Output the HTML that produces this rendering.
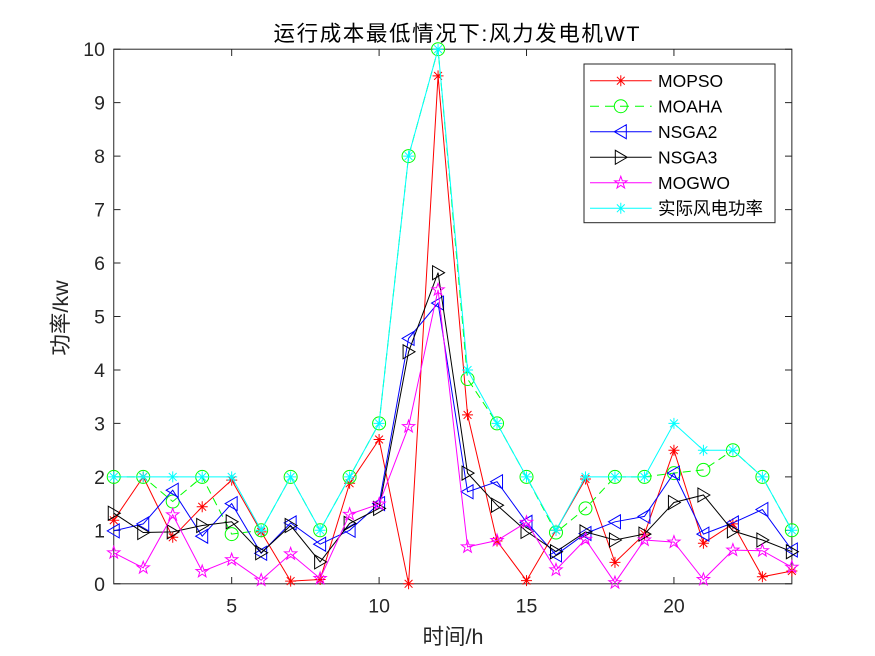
<!DOCTYPE html>
<html>
<head>
<meta charset="utf-8">
<style>
html,body{margin:0;padding:0;background:#fff;}
svg{display:block;}
</style>
</head>
<body>
<svg width="875" height="656" viewBox="0 0 875 656" xmlns="http://www.w3.org/2000/svg">
<rect x="0" y="0" width="875" height="656" fill="#ffffff"/>

<!-- axes box -->
<rect x="113.75" y="49.2" width="678.11" height="534.6" fill="#ffffff" stroke="#262626" stroke-width="1"/>

<!-- ticks -->
<g stroke="#262626" stroke-width="1">
<path d="M231.68 583.8V577M379.1 583.8V577M526.51 583.8V577M673.93 583.8V577"/>
<path d="M231.68 49.2V56M379.1 49.2V56M526.51 49.2V56M673.93 49.2V56"/>
<path d="M113.75 583.8H120.5M113.75 530.34H120.5M113.75 476.88H120.5M113.75 423.42H120.5M113.75 369.96H120.5M113.75 316.5H120.5M113.75 263.04H120.5M113.75 209.58H120.5M113.75 156.12H120.5M113.75 102.66H120.5M113.75 49.2H120.5"/>
<path d="M791.86 583.8H785M791.86 530.34H785M791.86 476.88H785M791.86 423.42H785M791.86 369.96H785M791.86 316.5H785M791.86 263.04H785M791.86 209.58H785M791.86 156.12H785M791.86 102.66H785M791.86 49.2H785"/>
</g>

<!-- tick labels -->
<g font-family="'Liberation Sans', Arial, sans-serif" font-size="19.5" fill="#262626">
<g text-anchor="end">
<text x="105" y="590.8">0</text>
<text x="105" y="537.3">1</text>
<text x="105" y="483.9">2</text>
<text x="105" y="430.4">3</text>
<text x="105" y="377">4</text>
<text x="105" y="323.5">5</text>
<text x="105" y="270">6</text>
<text x="105" y="216.6">7</text>
<text x="105" y="163.1">8</text>
<text x="105" y="109.7">9</text>
<text x="105" y="56.2">10</text>
</g>
<g text-anchor="middle">
<text x="231.68" y="612.5">5</text>
<text x="379.1" y="612.5">10</text>
<text x="526.51" y="612.5">15</text>
<text x="673.93" y="612.5">20</text>
</g>
</g>

<!-- axis labels and title -->
<text x="453" y="644" text-anchor="middle" font-family="'Liberation Sans', 'Noto Sans CJK SC', sans-serif" font-size="21.5" fill="#262626">时间/h</text>
<text transform="translate(68,318) rotate(-90)" text-anchor="middle" font-family="'Liberation Sans', 'Noto Sans CJK SC', sans-serif" font-size="21.5" fill="#262626">功率/kw</text>
<text x="456.5" y="41" text-anchor="middle" font-family="'Liberation Sans', 'Noto Sans CJK SC', sans-serif" font-size="21.5" fill="#000000" textLength="366" lengthAdjust="spacing">运行成本最低情况下:风力发电机WT</text>

<!-- MOPSO -->
<polyline fill="none" stroke="#ff0000" stroke-width="1"
points="113.75,520.2 143.23,476.9 172.72,537.3 202.2,506.8 231.68,480.1 261.17,531.9 290.65,581.1 320.13,579.5 349.61,483.3 379.1,439.5 408.58,583.8 438.06,75.9 467.55,414.9 497.03,541 526.51,580.6 556,530.3 585.48,479 614.96,562.4 644.44,534.1 673.93,450.2 703.41,543.2 732.89,523.9 762.38,576.8 791.86,571"/>
<path fill="none" stroke="#ff0000" stroke-width="1" d="
M113.75 520.2m-5.5 0h11m-5.5 -5.5v11m-3.9 -9.4l7.8 7.8m0 -7.8l-7.8 7.8
M143.23 476.9m-5.5 0h11m-5.5 -5.5v11m-3.9 -9.4l7.8 7.8m0 -7.8l-7.8 7.8
M172.72 537.3m-5.5 0h11m-5.5 -5.5v11m-3.9 -9.4l7.8 7.8m0 -7.8l-7.8 7.8
M202.2 506.8m-5.5 0h11m-5.5 -5.5v11m-3.9 -9.4l7.8 7.8m0 -7.8l-7.8 7.8
M231.68 480.1m-5.5 0h11m-5.5 -5.5v11m-3.9 -9.4l7.8 7.8m0 -7.8l-7.8 7.8
M261.17 531.9m-5.5 0h11m-5.5 -5.5v11m-3.9 -9.4l7.8 7.8m0 -7.8l-7.8 7.8
M290.65 581.1m-5.5 0h11m-5.5 -5.5v11m-3.9 -9.4l7.8 7.8m0 -7.8l-7.8 7.8
M320.13 579.5m-5.5 0h11m-5.5 -5.5v11m-3.9 -9.4l7.8 7.8m0 -7.8l-7.8 7.8
M349.61 483.3m-5.5 0h11m-5.5 -5.5v11m-3.9 -9.4l7.8 7.8m0 -7.8l-7.8 7.8
M379.1 439.5m-5.5 0h11m-5.5 -5.5v11m-3.9 -9.4l7.8 7.8m0 -7.8l-7.8 7.8
M408.58 583.8m-5.5 0h11m-5.5 -5.5v11m-3.9 -9.4l7.8 7.8m0 -7.8l-7.8 7.8
M438.06 75.9m-5.5 0h11m-5.5 -5.5v11m-3.9 -9.4l7.8 7.8m0 -7.8l-7.8 7.8
M467.55 414.9m-5.5 0h11m-5.5 -5.5v11m-3.9 -9.4l7.8 7.8m0 -7.8l-7.8 7.8
M497.03 541m-5.5 0h11m-5.5 -5.5v11m-3.9 -9.4l7.8 7.8m0 -7.8l-7.8 7.8
M526.51 580.6m-5.5 0h11m-5.5 -5.5v11m-3.9 -9.4l7.8 7.8m0 -7.8l-7.8 7.8
M556 530.3m-5.5 0h11m-5.5 -5.5v11m-3.9 -9.4l7.8 7.8m0 -7.8l-7.8 7.8
M585.48 479m-5.5 0h11m-5.5 -5.5v11m-3.9 -9.4l7.8 7.8m0 -7.8l-7.8 7.8
M614.96 562.4m-5.5 0h11m-5.5 -5.5v11m-3.9 -9.4l7.8 7.8m0 -7.8l-7.8 7.8
M644.44 534.1m-5.5 0h11m-5.5 -5.5v11m-3.9 -9.4l7.8 7.8m0 -7.8l-7.8 7.8
M673.93 450.2m-5.5 0h11m-5.5 -5.5v11m-3.9 -9.4l7.8 7.8m0 -7.8l-7.8 7.8
M703.41 543.2m-5.5 0h11m-5.5 -5.5v11m-3.9 -9.4l7.8 7.8m0 -7.8l-7.8 7.8
M732.89 523.9m-5.5 0h11m-5.5 -5.5v11m-3.9 -9.4l7.8 7.8m0 -7.8l-7.8 7.8
M762.38 576.8m-5.5 0h11m-5.5 -5.5v11m-3.9 -9.4l7.8 7.8m0 -7.8l-7.8 7.8
M791.86 571m-5.5 0h11m-5.5 -5.5v11m-3.9 -9.4l7.8 7.8m0 -7.8l-7.8 7.8"/>

<!-- MOAHA -->
<polyline fill="none" stroke="#00ff00" stroke-width="1" stroke-dasharray="8,5"
points="113.75,476.9 143.23,476.9 172.72,501.5 202.2,476.9 231.68,534.1 261.17,530.3 290.65,476.9 320.13,530.3 349.61,476.9 379.1,423.4 408.58,156.1 438.06,49.2 467.55,379 497.03,423.4 526.51,476.9 556,532.5 585.48,508.4 614.96,476.9 644.44,476.9 673.93,473.1 703.41,469.9 732.89,450.2 762.38,476.9 791.86,530.3"/>
<g fill="none" stroke="#00ff00" stroke-width="1">
<circle cx="113.75" cy="476.9" r="6.5"/><circle cx="143.23" cy="476.9" r="6.5"/><circle cx="172.72" cy="501.5" r="6.5"/><circle cx="202.2" cy="476.9" r="6.5"/><circle cx="231.68" cy="534.1" r="6.5"/><circle cx="261.17" cy="530.3" r="6.5"/><circle cx="290.65" cy="476.9" r="6.5"/><circle cx="320.13" cy="530.3" r="6.5"/><circle cx="349.61" cy="476.9" r="6.5"/><circle cx="379.1" cy="423.4" r="6.5"/><circle cx="408.58" cy="156.1" r="6.5"/><circle cx="438.06" cy="49.2" r="6.5"/><circle cx="467.55" cy="379" r="6.5"/><circle cx="497.03" cy="423.4" r="6.5"/><circle cx="526.51" cy="476.9" r="6.5"/><circle cx="556" cy="532.5" r="6.5"/><circle cx="585.48" cy="508.4" r="6.5"/><circle cx="614.96" cy="476.9" r="6.5"/><circle cx="644.44" cy="476.9" r="6.5"/><circle cx="673.93" cy="473.1" r="6.5"/><circle cx="703.41" cy="469.9" r="6.5"/><circle cx="732.89" cy="450.2" r="6.5"/><circle cx="762.38" cy="476.9" r="6.5"/><circle cx="791.86" cy="530.3" r="6.5"/>
</g>

<!-- NSGA2 -->
<polyline fill="none" stroke="#0000ff" stroke-width="1"
points="113.75,530.9 143.23,523.9 172.72,490.2 202.2,536.2 231.68,503.6 261.17,553.3 290.65,522.9 320.13,544.2 349.61,530.3 379.1,503.6 408.58,338.4 438.06,303.1 467.55,491.8 497.03,481.7 526.51,522.3 556,554.9 585.48,533.5 614.96,521.8 644.44,516.4 673.93,473.1 703.41,534.1 732.89,522.9 762.38,509.5 791.86,550"/>
<path fill="none" stroke="#0000ff" stroke-width="1" d="
M113.75 530.9m-6.5 0l12 -7v14z
M143.23 523.9m-6.5 0l12 -7v14z
M172.72 490.2m-6.5 0l12 -7v14z
M202.2 536.2m-6.5 0l12 -7v14z
M231.68 503.6m-6.5 0l12 -7v14z
M261.17 553.3m-6.5 0l12 -7v14z
M290.65 522.9m-6.5 0l12 -7v14z
M320.13 544.2m-6.5 0l12 -7v14z
M349.61 530.3m-6.5 0l12 -7v14z
M379.1 503.6m-6.5 0l12 -7v14z
M408.58 338.4m-6.5 0l12 -7v14z
M438.06 303.1m-6.5 0l12 -7v14z
M467.55 491.8m-6.5 0l12 -7v14z
M497.03 481.7m-6.5 0l12 -7v14z
M526.51 522.3m-6.5 0l12 -7v14z
M556 554.9m-6.5 0l12 -7v14z
M585.48 533.5m-6.5 0l12 -7v14z
M614.96 521.8m-6.5 0l12 -7v14z
M644.44 516.4m-6.5 0l12 -7v14z
M673.93 473.1m-6.5 0l12 -7v14z
M703.41 534.1m-6.5 0l12 -7v14z
M732.89 522.9m-6.5 0l12 -7v14z
M762.38 509.5m-6.5 0l12 -7v14z
M791.86 550m-6.5 0l12 -7v14z"/>

<!-- NSGA3 -->
<polyline fill="none" stroke="#000000" stroke-width="1"
points="113.75,513.2 143.23,532.5 172.72,531.9 202.2,525.5 231.68,521.8 261.17,552.8 290.65,525.5 320.13,561.9 349.61,523.4 379.1,508.4 408.58,351.8 438.06,272.7 467.55,473.1 497.03,505.2 526.51,531.4 556,551.7 585.48,531.9 614.96,540 644.44,534.1 673.93,502.5 703.41,495 732.89,530.9 762.38,540 791.86,551.7"/>
<path fill="none" stroke="#000000" stroke-width="1" d="
M113.75 513.2m6.5 0l-12 -7v14z
M143.23 532.5m6.5 0l-12 -7v14z
M172.72 531.9m6.5 0l-12 -7v14z
M202.2 525.5m6.5 0l-12 -7v14z
M231.68 521.8m6.5 0l-12 -7v14z
M261.17 552.8m6.5 0l-12 -7v14z
M290.65 525.5m6.5 0l-12 -7v14z
M320.13 561.9m6.5 0l-12 -7v14z
M349.61 523.4m6.5 0l-12 -7v14z
M379.1 508.4m6.5 0l-12 -7v14z
M408.58 351.8m6.5 0l-12 -7v14z
M438.06 272.7m6.5 0l-12 -7v14z
M467.55 473.1m6.5 0l-12 -7v14z
M497.03 505.2m6.5 0l-12 -7v14z
M526.51 531.4m6.5 0l-12 -7v14z
M556 551.7m6.5 0l-12 -7v14z
M585.48 531.9m6.5 0l-12 -7v14z
M614.96 540m6.5 0l-12 -7v14z
M644.44 534.1m6.5 0l-12 -7v14z
M673.93 502.5m6.5 0l-12 -7v14z
M703.41 495m6.5 0l-12 -7v14z
M732.89 530.9m6.5 0l-12 -7v14z
M762.38 540m6.5 0l-12 -7v14z
M791.86 551.7m6.5 0l-12 -7v14z"/>

<!-- MOGWO -->
<polyline fill="none" stroke="#ff00ff" stroke-width="1"
points="113.75,552.8 143.23,567.8 172.72,514.8 202.2,571.5 231.68,559.7 261.17,580.1 290.65,553.9 320.13,578.5 349.61,514.3 379.1,504.1 408.58,426.6 438.06,289.8 467.55,546.9 497.03,540.5 526.51,522.3 556,569.9 585.48,539.4 614.96,582.7 644.44,540 673.93,542.1 703.41,579.5 732.89,550.1 762.38,550.7 791.86,567.2"/>
<path fill="none" stroke="#ff00ff" stroke-width="1" d="
M113.75 552.8m0 -6.5l1.53 4.4l4.65 0.09l-3.71 2.81l1.35 4.46l-3.82 -2.66l-3.82 2.66l1.35 -4.46l-3.71 -2.81l4.65 -0.09z
M143.23 567.8m0 -6.5l1.53 4.4l4.65 0.09l-3.71 2.81l1.35 4.46l-3.82 -2.66l-3.82 2.66l1.35 -4.46l-3.71 -2.81l4.65 -0.09z
M172.72 514.8m0 -6.5l1.53 4.4l4.65 0.09l-3.71 2.81l1.35 4.46l-3.82 -2.66l-3.82 2.66l1.35 -4.46l-3.71 -2.81l4.65 -0.09z
M202.2 571.5m0 -6.5l1.53 4.4l4.65 0.09l-3.71 2.81l1.35 4.46l-3.82 -2.66l-3.82 2.66l1.35 -4.46l-3.71 -2.81l4.65 -0.09z
M231.68 559.7m0 -6.5l1.53 4.4l4.65 0.09l-3.71 2.81l1.35 4.46l-3.82 -2.66l-3.82 2.66l1.35 -4.46l-3.71 -2.81l4.65 -0.09z
M261.17 580.1m0 -6.5l1.53 4.4l4.65 0.09l-3.71 2.81l1.35 4.46l-3.82 -2.66l-3.82 2.66l1.35 -4.46l-3.71 -2.81l4.65 -0.09z
M290.65 553.9m0 -6.5l1.53 4.4l4.65 0.09l-3.71 2.81l1.35 4.46l-3.82 -2.66l-3.82 2.66l1.35 -4.46l-3.71 -2.81l4.65 -0.09z
M320.13 578.5m0 -6.5l1.53 4.4l4.65 0.09l-3.71 2.81l1.35 4.46l-3.82 -2.66l-3.82 2.66l1.35 -4.46l-3.71 -2.81l4.65 -0.09z
M349.61 514.3m0 -6.5l1.53 4.4l4.65 0.09l-3.71 2.81l1.35 4.46l-3.82 -2.66l-3.82 2.66l1.35 -4.46l-3.71 -2.81l4.65 -0.09z
M379.1 504.1m0 -6.5l1.53 4.4l4.65 0.09l-3.71 2.81l1.35 4.46l-3.82 -2.66l-3.82 2.66l1.35 -4.46l-3.71 -2.81l4.65 -0.09z
M408.58 426.6m0 -6.5l1.53 4.4l4.65 0.09l-3.71 2.81l1.35 4.46l-3.82 -2.66l-3.82 2.66l1.35 -4.46l-3.71 -2.81l4.65 -0.09z
M438.06 289.8m0 -6.5l1.53 4.4l4.65 0.09l-3.71 2.81l1.35 4.46l-3.82 -2.66l-3.82 2.66l1.35 -4.46l-3.71 -2.81l4.65 -0.09z
M467.55 546.9m0 -6.5l1.53 4.4l4.65 0.09l-3.71 2.81l1.35 4.46l-3.82 -2.66l-3.82 2.66l1.35 -4.46l-3.71 -2.81l4.65 -0.09z
M497.03 540.5m0 -6.5l1.53 4.4l4.65 0.09l-3.71 2.81l1.35 4.46l-3.82 -2.66l-3.82 2.66l1.35 -4.46l-3.71 -2.81l4.65 -0.09z
M526.51 522.3m0 -6.5l1.53 4.4l4.65 0.09l-3.71 2.81l1.35 4.46l-3.82 -2.66l-3.82 2.66l1.35 -4.46l-3.71 -2.81l4.65 -0.09z
M556 569.9m0 -6.5l1.53 4.4l4.65 0.09l-3.71 2.81l1.35 4.46l-3.82 -2.66l-3.82 2.66l1.35 -4.46l-3.71 -2.81l4.65 -0.09z
M585.48 539.4m0 -6.5l1.53 4.4l4.65 0.09l-3.71 2.81l1.35 4.46l-3.82 -2.66l-3.82 2.66l1.35 -4.46l-3.71 -2.81l4.65 -0.09z
M614.96 582.7m0 -6.5l1.53 4.4l4.65 0.09l-3.71 2.81l1.35 4.46l-3.82 -2.66l-3.82 2.66l1.35 -4.46l-3.71 -2.81l4.65 -0.09z
M644.44 540m0 -6.5l1.53 4.4l4.65 0.09l-3.71 2.81l1.35 4.46l-3.82 -2.66l-3.82 2.66l1.35 -4.46l-3.71 -2.81l4.65 -0.09z
M673.93 542.1m0 -6.5l1.53 4.4l4.65 0.09l-3.71 2.81l1.35 4.46l-3.82 -2.66l-3.82 2.66l1.35 -4.46l-3.71 -2.81l4.65 -0.09z
M703.41 579.5m0 -6.5l1.53 4.4l4.65 0.09l-3.71 2.81l1.35 4.46l-3.82 -2.66l-3.82 2.66l1.35 -4.46l-3.71 -2.81l4.65 -0.09z
M732.89 550.1m0 -6.5l1.53 4.4l4.65 0.09l-3.71 2.81l1.35 4.46l-3.82 -2.66l-3.82 2.66l1.35 -4.46l-3.71 -2.81l4.65 -0.09z
M762.38 550.7m0 -6.5l1.53 4.4l4.65 0.09l-3.71 2.81l1.35 4.46l-3.82 -2.66l-3.82 2.66l1.35 -4.46l-3.71 -2.81l4.65 -0.09z
M791.86 567.2m0 -6.5l1.53 4.4l4.65 0.09l-3.71 2.81l1.35 4.46l-3.82 -2.66l-3.82 2.66l1.35 -4.46l-3.71 -2.81l4.65 -0.09z"/>

<!-- Actual wind power (cyan) -->
<polyline fill="none" stroke="#00ffff" stroke-width="1"
points="113.75,476.9 143.23,476.9 172.72,476.9 202.2,476.9 231.68,476.9 261.17,530.3 290.65,476.9 320.13,530.3 349.61,476.9 379.1,423.4 408.58,156.1 438.06,49.2 467.55,370 497.03,423.4 526.51,476.9 556,530.3 585.48,476.9 614.96,476.9 644.44,476.9 673.93,423.4 703.41,450.2 732.89,450.2 762.38,476.9 791.86,530.3"/>
<path fill="none" stroke="#00ffff" stroke-width="1" d="
M113.75 476.9m-5.5 0h11m-5.5 -5.5v11m-3.9 -9.4l7.8 7.8m0 -7.8l-7.8 7.8
M143.23 476.9m-5.5 0h11m-5.5 -5.5v11m-3.9 -9.4l7.8 7.8m0 -7.8l-7.8 7.8
M172.72 476.9m-5.5 0h11m-5.5 -5.5v11m-3.9 -9.4l7.8 7.8m0 -7.8l-7.8 7.8
M202.2 476.9m-5.5 0h11m-5.5 -5.5v11m-3.9 -9.4l7.8 7.8m0 -7.8l-7.8 7.8
M231.68 476.9m-5.5 0h11m-5.5 -5.5v11m-3.9 -9.4l7.8 7.8m0 -7.8l-7.8 7.8
M261.17 530.3m-5.5 0h11m-5.5 -5.5v11m-3.9 -9.4l7.8 7.8m0 -7.8l-7.8 7.8
M290.65 476.9m-5.5 0h11m-5.5 -5.5v11m-3.9 -9.4l7.8 7.8m0 -7.8l-7.8 7.8
M320.13 530.3m-5.5 0h11m-5.5 -5.5v11m-3.9 -9.4l7.8 7.8m0 -7.8l-7.8 7.8
M349.61 476.9m-5.5 0h11m-5.5 -5.5v11m-3.9 -9.4l7.8 7.8m0 -7.8l-7.8 7.8
M379.1 423.4m-5.5 0h11m-5.5 -5.5v11m-3.9 -9.4l7.8 7.8m0 -7.8l-7.8 7.8
M408.58 156.1m-5.5 0h11m-5.5 -5.5v11m-3.9 -9.4l7.8 7.8m0 -7.8l-7.8 7.8
M438.06 49.2m-5.5 0h11m-5.5 -5.5v11m-3.9 -9.4l7.8 7.8m0 -7.8l-7.8 7.8
M467.55 370m-5.5 0h11m-5.5 -5.5v11m-3.9 -9.4l7.8 7.8m0 -7.8l-7.8 7.8
M497.03 423.4m-5.5 0h11m-5.5 -5.5v11m-3.9 -9.4l7.8 7.8m0 -7.8l-7.8 7.8
M526.51 476.9m-5.5 0h11m-5.5 -5.5v11m-3.9 -9.4l7.8 7.8m0 -7.8l-7.8 7.8
M556 530.3m-5.5 0h11m-5.5 -5.5v11m-3.9 -9.4l7.8 7.8m0 -7.8l-7.8 7.8
M585.48 476.9m-5.5 0h11m-5.5 -5.5v11m-3.9 -9.4l7.8 7.8m0 -7.8l-7.8 7.8
M614.96 476.9m-5.5 0h11m-5.5 -5.5v11m-3.9 -9.4l7.8 7.8m0 -7.8l-7.8 7.8
M644.44 476.9m-5.5 0h11m-5.5 -5.5v11m-3.9 -9.4l7.8 7.8m0 -7.8l-7.8 7.8
M673.93 423.4m-5.5 0h11m-5.5 -5.5v11m-3.9 -9.4l7.8 7.8m0 -7.8l-7.8 7.8
M703.41 450.2m-5.5 0h11m-5.5 -5.5v11m-3.9 -9.4l7.8 7.8m0 -7.8l-7.8 7.8
M732.89 450.2m-5.5 0h11m-5.5 -5.5v11m-3.9 -9.4l7.8 7.8m0 -7.8l-7.8 7.8
M762.38 476.9m-5.5 0h11m-5.5 -5.5v11m-3.9 -9.4l7.8 7.8m0 -7.8l-7.8 7.8
M791.86 530.3m-5.5 0h11m-5.5 -5.5v11m-3.9 -9.4l7.8 7.8m0 -7.8l-7.8 7.8"/>

<!-- legend -->
<rect x="584" y="64" width="191" height="158.7" fill="#ffffff" stroke="#262626" stroke-width="1"/>
<g fill="none" stroke-width="1">
<path stroke="#ff0000" d="M590 80.7H651.7M620.8 80.7m-5.5 0h11m-5.5 -5.5v11m-3.9 -9.4l7.8 7.8m0 -7.8l-7.8 7.8"/>
<path stroke="#00ff00" stroke-dasharray="9,6" d="M590 106.2H651.7"/>
<circle stroke="#00ff00" cx="620.8" cy="106.2" r="6.5"/>
<path stroke="#0000ff" d="M590 131.7H651.7M620.8 131.7m-6.5 0l12 -7v14z"/>
<path stroke="#000000" d="M590 157.3H651.7M620.8 157.3m6.5 0l-12 -7v14z"/>
<path stroke="#ff00ff" d="M590 182.8H651.7M620.8 182.8m0 -6.5l1.53 4.4l4.65 0.09l-3.71 2.81l1.35 4.46l-3.82 -2.66l-3.82 2.66l1.35 -4.46l-3.71 -2.81l4.65 -0.09z"/>
<path stroke="#00ffff" d="M590 208.3H651.7M620.8 208.3m-5.5 0h11m-5.5 -5.5v11m-3.9 -9.4l7.8 7.8m0 -7.8l-7.8 7.8"/>
</g>
<g font-family="'Liberation Sans', 'Noto Sans CJK SC', sans-serif" font-size="17.5" fill="#000000">
<text x="658" y="87">MOPSO</text>
<text x="658" y="112.5">MOAHA</text>
<text x="658" y="138">NSGA2</text>
<text x="658" y="163.6">NSGA3</text>
<text x="658" y="189.1">MOGWO</text>
<text x="658" y="214.6">实际风电功率</text>
</g>
</svg>
</body>
</html>
